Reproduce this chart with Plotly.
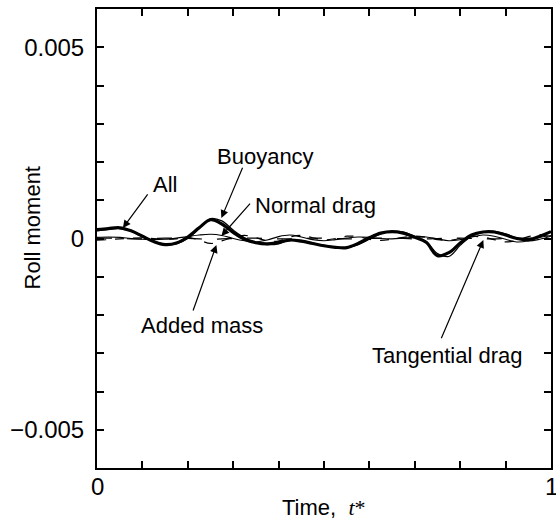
import plotly.graph_objects as go

t = [i * 0.025 for i in range(41)]

# values in units of 1e-4
all_v = [2.3, 2.6, 2.8, 2.0, 0.6, -0.8, -1.6, -1.2, 0.4, 2.8,
         4.9, 3.8, 1.6, -0.2, -1.1, -1.4, -1.0, -0.4, -0.7, -1.3,
         -1.9, -2.3, -2.4, -1.3, 0.2, 1.4, 1.8, 1.4, 0.3, -1.0,
         -4.5, -3.7, -1.2, 0.9, 1.7, 1.7, 0.9, 0.0, -0.3, 0.6, 1.8]
buoy_v = [2.0, 2.4, 2.6, 2.0, 0.7, -0.7, -1.5, -1.4, 0.0, 2.6,
          5.2, 4.6, 2.2, 0.2, -1.0, -1.6, -1.4, -0.4, -0.5, -1.2,
          -1.8, -2.2, -2.4, -1.6, -0.2, 1.2, 1.9, 1.7, 0.6, -0.8,
          -3.9, -4.7, -1.8, 0.6, 1.6, 1.9, 1.2, 0.1, -0.6, -0.2, 0.6]
normal_v = [0.3, 0.4, 0.3, 0.0, -0.2, -0.3, -0.2, 0.1, 0.5, 0.9,
            1.1, 0.8, 0.0, -0.6, -0.9, -0.4, 0.5, 0.9, 0.4, -0.3,
            -0.6, -0.3, 0.1, 0.4, 0.3, 0.0, -0.1, 0.1, 0.3, 0.4,
            -0.1, -0.6, -0.3, 0.4, 0.9, 0.6, -0.2, -0.9, -0.6, 0.3, 0.8]
added_v = [-0.4, -0.3, -0.1, 0.1, 0.2, 0.0, -0.2, -0.1, 0.3, -0.4,
           -1.3, -0.6, 0.3, 0.8, 0.2, -0.6, -0.7, 0.4, 0.8, 0.2,
           -0.4, 0.0, 0.6, 0.5, -0.2, -0.5, -0.2, 0.3, 0.6, 0.3,
           -0.3, -0.5, 0.0, 0.5, 0.4, -0.3, -0.9, -0.5, 0.5, 1.0, 0.4]
tang_v = [0.1, 0.1, 0.0, -0.1, -0.1, 0.0, 0.1, 0.1, 0.0, -0.1,
          -0.2, -0.1, 0.0, 0.1, 0.1, 0.0, -0.1, -0.1, 0.0, 0.1,
          0.1, 0.0, -0.1, -0.1, 0.0, 0.1, 0.1, 0.0, -0.1, -0.1,
          0.0, 0.1, 0.1, 0.0, -0.1, -0.1, 0.0, 0.1, 0.1, 0.0, -0.1]

scale = 1e-4

x_tickvals = [i / 10 for i in range(11)]
x_ticktext = ["0", "", "", "", "", "", "", "", "", "", "1"]
y_tickvals = [i / 1000 for i in range(-6, 7)]
y_ticktext = ["", "\u22120.005", "", "", "", "", "0", "", "", "", "", "0.005", ""]

FONT = "Liberation Sans, Arial, sans-serif"

fig = go.Figure()

def add(vals, width, dash):
    fig.add_trace(go.Scatter(
        x=t, y=[v * scale for v in vals], mode="lines",
        line=dict(color="black", width=width, dash=dash, shape="spline", smoothing=1.0),
        showlegend=False, hoverinfo="skip"))

add(tang_v, 1.2, "longdash")
add(added_v, 1.2, "dash")
add(normal_v, 1.1, "solid")
add(buoy_v, 1.2, "solid")
add(all_v, 3.2, "solid")

axis_common = dict(
    showline=True, linecolor="black", linewidth=2, mirror="allticks",
    ticks="inside", ticklen=7, tickwidth=2, tickcolor="black",
    showgrid=False, zeroline=False,
    tickfont=dict(family=FONT, size=24, color="black"),
)

# x tick labels drawn as annotations so the right-hand "1" is kept (partly cut by the edge)
fig.update_xaxes(range=[0, 1], tickmode="array", tickvals=x_tickvals,
                 ticktext=[""] * len(x_tickvals), **axis_common)
fig.update_yaxes(range=[-0.006, 0.006], tickmode="array", tickvals=y_tickvals,
                 ticktext=y_ticktext, ticklabelstandoff=6, **axis_common)

ann = []
for xv, lab in zip(x_tickvals, x_ticktext):
    if lab:
        ann.append(dict(x=xv, xref="x", yref="paper", y=0, yshift=-3, text=lab,
                        showarrow=False, font=dict(family=FONT, size=24, color="black"),
                        xanchor="center", yanchor="top"))
# axis titles
ann.append(dict(xref="paper", yref="paper", x=0.5, y=0, yshift=-39,
                text="Time,  <span style='font-family:Liberation Serif'><i>t</i>*</span>",
                showarrow=False, font=dict(family=FONT, size=22, color="black"),
                xanchor="center", yanchor="middle"))
ann.append(dict(xref="paper", yref="paper", x=0, xshift=-65, y=0.5, yshift=10,
                text="Roll moment", textangle=-90, showarrow=False,
                font=dict(family=FONT, size=22, color="black"),
                xanchor="center", yanchor="middle"))

labels = [
    ("All", 0.149, 14.0e-4),
    ("Buoyancy", 0.371, 21.5e-4),
    ("Normal drag", 0.482, 8.7e-4),
    ("Added mass", 0.232, -22.8e-4),
    ("Tangential drag", 0.772, -30.5e-4),
]
for txt, lx, ly in labels:
    ann.append(dict(x=lx, y=ly, xref="x", yref="y", text=txt, showarrow=False,
                    font=dict(family=FONT, size=22, color="black"),
                    xanchor="center", yanchor="middle"))

arrows = [
    (0.057, 2.75e-4, 0.114, 11.9e-4),
    (0.274, 5.36e-4, 0.322, 18.9e-4),
    (0.274, 0.65e-4, 0.340, 9.5e-4),
    (0.263, -1.7e-4, 0.2105, -19.2e-4),
    (0.851, -0.4e-4, 0.757, -26.5e-4),
]
for hx, hy, tx, ty in arrows:
    ann.append(dict(x=hx, y=hy, ax=tx, ay=ty, xref="x", yref="y", axref="x", ayref="y",
                    text="", showarrow=True, arrowhead=2, arrowsize=1.3, arrowwidth=1.2,
                    arrowcolor="black", standoff=0, startstandoff=0))

fig.update_layout(
    width=556, height=520,
    margin=dict(l=97, r=3, t=9, b=52),
    plot_bgcolor="white", paper_bgcolor="white",
    annotations=ann,
)

fig.write_html("out.html")
